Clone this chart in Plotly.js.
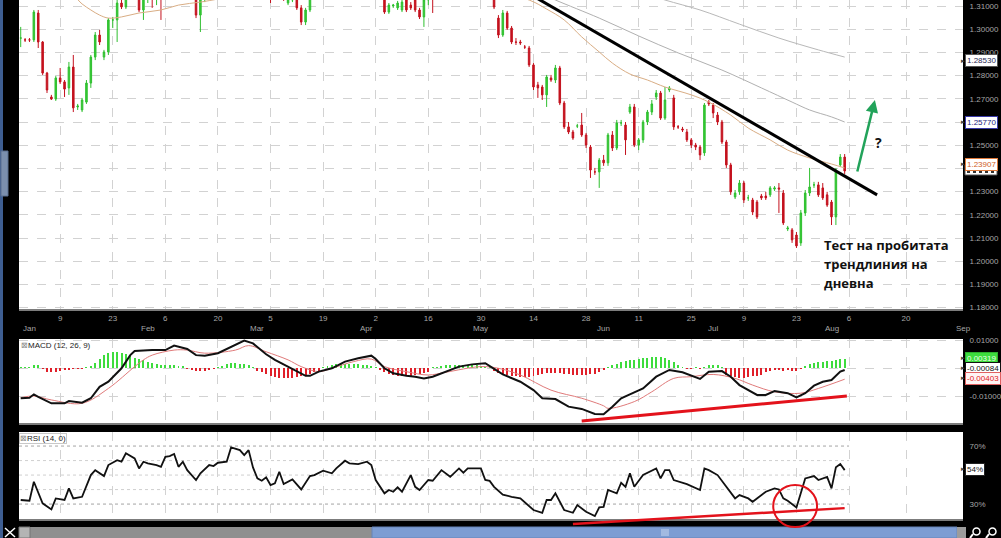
<!DOCTYPE html>
<html><head><meta charset="utf-8">
<script src="https://cdn.plot.ly/plotly-3.0.1.min.js"></script>
<style>html,body{margin:0;padding:0;background:#000;}#chart{width:1001px;height:538px;}</style>
</head><body><div id="chart"></div><script>
// ---- DATA: daily EUR/USD bars (index 0 = first bar, 29 Dec 2011) ----
const open = [
1.2962,1.2954,1.2954,1.2954,1.3070,1.2945,1.2811,1.2708,1.2699,1.2790,
1.2773,1.2747,1.2837,1.2665,1.2652,1.2686,1.2768,1.2880,1.2975,1.2880,
1.2902,1.3040,1.3040,1.3113,1.3096,1.3169,1.3212,1.3148,1.3083,1.3139,
1.3178,1.3160,1.3191,1.3148,1.3212,1.3234,1.3191,1.3221,1.3255,1.3212,
1.3169,1.3061,1.3148,1.3212,1.3255,1.3234,1.3264,1.3298,1.3277,1.3307,
1.3342,1.3320,1.3290,1.3255,1.3212,1.3178,1.3204,1.3169,1.3148,1.3178,
1.3160,1.3113,1.3126,1.3160,1.3092,1.3031,1.3083,1.3148,1.3191,1.3221,
1.3255,1.3234,1.3212,1.3247,1.3277,1.3255,1.3234,1.3204,1.3221,1.3191,
1.3178,1.3160,1.3148,1.3160,1.3074,1.3100,1.3092,1.3083,1.3126,1.3104,
1.3126,1.3083,1.3053,1.3126,1.3148,1.3139,1.3169,1.3204,1.3221,1.3191,
1.3212,1.3186,1.3169,1.3195,1.3178,1.3160,1.3186,1.3178,1.3169,1.3048,
1.2975,1.3070,1.3005,1.2945,1.2945,1.2923,1.2919,1.2846,1.2760,1.2751,
1.2717,1.2790,1.2781,1.2833,1.2682,1.2579,1.2557,1.2583,1.2587,1.2544,
1.2492,1.2385,1.2385,1.2436,1.2424,1.2544,1.2488,1.2596,1.2587,1.2643,
1.2665,1.2501,1.2523,1.2600,1.2643,1.2708,1.2725,1.2617,1.2738,1.2704,
1.2579,1.2570,1.2557,1.2523,1.2501,1.2492,1.2467,1.2686,1.2673,1.2630,
1.2600,1.2514,1.2415,1.2277,1.2299,1.2337,1.2273,1.2264,1.2255,1.2281,
1.2281,1.2286,1.2311,1.2316,1.2294,1.2139,1.2135,1.2113,1.2079,1.2208,
1.2294,1.2329,1.2329,1.2316,1.2286,1.2255,1.2191,1.2415,1.2449];
const high = [
1.3010,1.2962,1.2962,1.3083,1.3083,1.2949,1.2816,1.2717,1.2798,1.2833,
1.2781,1.2859,1.2889,1.2678,1.2704,1.2781,1.2889,1.2988,1.2997,1.2911,
1.3048,1.3053,1.3135,1.3148,1.3191,1.3234,1.3255,1.3178,1.3160,1.3204,
1.3212,1.3221,1.3212,1.3234,1.3255,1.3277,1.3247,1.3277,1.3290,1.3247,
1.3191,1.3169,1.3234,1.3277,1.3298,1.3277,1.3320,1.3333,1.3320,1.3363,
1.3376,1.3363,1.3342,1.3298,1.3255,1.3234,1.3247,1.3212,1.3204,1.3221,
1.3204,1.3148,1.3169,1.3191,1.3104,1.3092,1.3160,1.3212,1.3247,1.3277,
1.3298,1.3277,1.3255,1.3298,1.3320,1.3298,1.3277,1.3255,1.3264,1.3234,
1.3221,1.3204,1.3191,1.3178,1.3113,1.3109,1.3122,1.3126,1.3139,1.3117,
1.3139,1.3092,1.3135,1.3160,1.3169,1.3191,1.3221,1.3247,1.3255,1.3234,
1.3247,1.3221,1.3212,1.3234,1.3212,1.3204,1.3221,1.3212,1.3178,1.3061,
1.3083,1.3079,1.3014,1.2962,1.2954,1.2932,1.2928,1.2854,1.2773,1.2760,
1.2803,1.2803,1.2846,1.2842,1.2691,1.2600,1.2566,1.2592,1.2639,1.2553,
1.2501,1.2402,1.2445,1.2458,1.2553,1.2561,1.2609,1.2609,1.2600,1.2678,
1.2678,1.2531,1.2609,1.2652,1.2695,1.2738,1.2734,1.2751,1.2755,1.2717,
1.2587,1.2579,1.2570,1.2531,1.2510,1.2501,1.2682,1.2695,1.2682,1.2643,
1.2609,1.2523,1.2424,1.2307,1.2350,1.2346,1.2286,1.2273,1.2264,1.2290,
1.2299,1.2324,1.2324,1.2337,1.2307,1.2152,1.2143,1.2126,1.2221,1.2307,
1.2402,1.2342,1.2342,1.2337,1.2299,1.2264,1.2402,1.2462,1.2462];
const low = [
1.2923,1.2945,1.2945,1.2945,1.2919,1.2803,1.2725,1.2695,1.2691,1.2764,
1.2708,1.2717,1.2643,1.2652,1.2643,1.2678,1.2747,1.2867,1.2932,1.2867,
1.2889,1.3005,1.2945,1.3087,1.3087,1.3148,1.3160,1.3074,1.3040,1.3113,
1.3092,1.3104,1.3040,1.3139,1.3160,1.3178,1.3148,1.3169,1.3191,1.3148,
1.3048,1.2988,1.3117,1.3169,1.3204,1.3191,1.3212,1.3234,1.3221,1.3255,
1.3277,1.3255,1.3234,1.3191,1.3148,1.3135,1.3143,1.3113,1.3135,1.3143,
1.3122,1.3104,1.3117,1.3083,1.3018,1.3018,1.3074,1.3135,1.3160,1.3191,
1.3212,1.3191,1.3169,1.3204,1.3234,1.3212,1.3191,1.3169,1.3178,1.3152,
1.3143,1.3135,1.3135,1.3066,1.3066,1.3092,1.3083,1.3074,1.3074,1.3083,
1.3074,1.3044,1.3010,1.3104,1.3070,1.3130,1.3148,1.3169,1.3178,1.3160,
1.3169,1.3148,1.3139,1.3160,1.3143,1.3139,1.3152,1.3143,1.3087,1.2962,
1.2967,1.2997,1.2936,1.2932,1.2932,1.2915,1.2837,1.2738,1.2704,1.2695,
1.2665,1.2773,1.2768,1.2673,1.2570,1.2548,1.2523,1.2574,1.2536,1.2488,
1.2359,1.2372,1.2316,1.2411,1.2411,1.2475,1.2479,1.2583,1.2458,1.2635,
1.2492,1.2479,1.2510,1.2587,1.2630,1.2695,1.2609,1.2609,1.2729,1.2566,
1.2570,1.2557,1.2514,1.2488,1.2479,1.2436,1.2454,1.2669,1.2617,1.2587,
1.2505,1.2402,1.2286,1.2268,1.2286,1.2251,1.2260,1.2199,1.2182,1.2264,
1.2264,1.2277,1.2303,1.2208,1.2156,1.2130,1.2079,1.2057,1.2066,1.2195,
1.2281,1.2316,1.2277,1.2264,1.2234,1.2156,1.2156,1.2406,1.2376];
const close = [
1.2962,1.2954,1.2954,1.3074,1.2945,1.2811,1.2738,1.2699,1.2790,1.2773,
1.2742,1.2837,1.2661,1.2669,1.2695,1.2768,1.2880,1.2975,1.2945,1.2902,
1.3040,1.3040,1.3113,1.3096,1.3169,1.3212,1.3191,1.3083,1.3139,1.3178,
1.3160,1.3191,1.3148,1.3212,1.3234,1.3191,1.3221,1.3255,1.3212,1.3169,
1.3061,1.3148,1.3212,1.3255,1.3234,1.3264,1.3298,1.3277,1.3307,1.3342,
1.3320,1.3290,1.3255,1.3212,1.3178,1.3204,1.3169,1.3148,1.3178,1.3160,
1.3135,1.3126,1.3148,1.3092,1.3031,1.3083,1.3148,1.3191,1.3221,1.3255,
1.3234,1.3212,1.3247,1.3277,1.3255,1.3234,1.3204,1.3221,1.3191,1.3178,
1.3160,1.3148,1.3160,1.3074,1.3104,1.3104,1.3113,1.3117,1.3083,1.3092,
1.3083,1.3053,1.3126,1.3148,1.3139,1.3169,1.3204,1.3221,1.3191,1.3212,
1.3186,1.3169,1.3195,1.3178,1.3160,1.3186,1.3178,1.3169,1.3096,1.2975,
1.3070,1.3005,1.2945,1.2944,1.2941,1.2923,1.2846,1.2751,1.2747,1.2717,
1.2794,1.2781,1.2833,1.2682,1.2579,1.2557,1.2531,1.2583,1.2544,1.2501,
1.2393,1.2385,1.2436,1.2424,1.2544,1.2488,1.2596,1.2596,1.2523,1.2665,
1.2501,1.2523,1.2600,1.2643,1.2678,1.2725,1.2617,1.2695,1.2747,1.2579,
1.2579,1.2566,1.2523,1.2501,1.2492,1.2458,1.2673,1.2678,1.2639,1.2600,
1.2514,1.2415,1.2299,1.2294,1.2337,1.2264,1.2273,1.2212,1.2191,1.2273,
1.2273,1.2316,1.2316,1.2311,1.2165,1.2143,1.2092,1.2066,1.2208,1.2294,
1.2320,1.2329,1.2286,1.2273,1.2242,1.2191,1.2393,1.2449,1.2389];

// moving averages (bar index, value)
const maTanIdx = [0,6,12,14,16,18,20,23,27,32,36,41,45,50,60,80,100,110,116,120,124,128,132,135,139,143,147,153,157,162,166,171,175,180,185,188];
const maTanVal = [1.3190,1.3170,1.3143,1.3109,1.3083,1.3061,1.3048,1.3053,1.3070,1.3083,1.3104,1.3117,1.3130,1.3148,1.3160,1.3191,1.3178,1.3152,1.3126,1.3087,1.3040,1.2967,1.2902,1.2854,1.2807,1.2781,1.2751,1.2717,1.2686,1.2630,1.2574,1.2523,1.2479,1.2445,1.2419,1.2402];
const maLowIdx = [110,118,122,132,141,150,160,169,176,180,185,188];
const maLowVal = [1.3195,1.3160,1.3126,1.3048,1.2971,1.2898,1.2824,1.2747,1.2686,1.2652,1.2622,1.2600];
const maHighIdx = [130,140,147,155,164,173,182,188];
const maHighVal = [1.3230,1.3169,1.3126,1.3083,1.3022,1.2962,1.2911,1.2880];

// MACD (12,26,9)
const macdIdx = [0,2,3,4,7,10,11,14,16,18,20,23,25,26,30,33,35,38,40,42,45,48,51,53,56,58,61,63,65,66,68,71,74,77,80,81,83,85,88,90,92,94,97,100,103,106,109,110,114,117,119,122,125,128,131,133,135,137,140,142,145,148,151,155,157,160,162,164,168,170,172,175,177,179,181,183,185,186,187,188];
const macdVal = [-0.0108,-0.0106,-0.0094,-0.0103,-0.0126,-0.0126,-0.0118,-0.0124,-0.0108,-0.0067,-0.0049,-0.0001,0.0046,0.0061,0.0064,0.0064,0.0080,0.0068,0.0046,0.0044,0.0053,0.0076,0.0098,0.0088,0.0049,0.0029,0.0005,-0.0013,-0.0028,-0.0028,-0.0013,-0.0001,0.0023,0.0035,0.0044,0.0032,-0.0001,-0.0019,-0.0028,-0.0031,-0.0037,-0.0031,-0.0013,0.0005,0.0013,0.0017,-0.0013,-0.0023,-0.0049,-0.0079,-0.0108,-0.0111,-0.0138,-0.0146,-0.0164,-0.0165,-0.0138,-0.0108,-0.0087,-0.0073,-0.0031,-0.0007,-0.0015,-0.0039,-0.0013,-0.0011,-0.0031,-0.0061,-0.0096,-0.0096,-0.0082,-0.0090,-0.0105,-0.0090,-0.0063,-0.0049,-0.0043,-0.0028,-0.0013,-0.0007];
const signalIdx = [0,3,7,14,20,26,28,30,35,38,42,49,52,56,61,64,68,71,76,80,83,88,93,97,105,109,114,121,128,133,134,140,144,149,153,158,163,167,172,178,182,188];
const signalVal = [-0.0106,-0.0100,-0.0114,-0.0126,-0.0073,0.0005,0.0029,0.0046,0.0064,0.0064,0.0053,0.0064,0.0080,0.0058,0.0029,0.0005,-0.0013,-0.0001,0.0023,0.0032,0.0005,-0.0013,-0.0025,-0.0015,0.0005,-0.0001,-0.0025,-0.0079,-0.0108,-0.0135,-0.0144,-0.0120,-0.0085,-0.0037,-0.0031,-0.0023,-0.0037,-0.0061,-0.0085,-0.0090,-0.0073,-0.0040];
const histVal = [
0.0004,0.0004,0.0005,0.0010,0.0010,-0.0003,-0.0014,-0.0014,-0.0014,-0.0012,
-0.0007,-0.0007,-0.0005,-0.0005,-0.0004,0.0002,0.0007,0.0018,0.0032,0.0046,
0.0054,0.0057,0.0057,0.0054,0.0050,0.0043,0.0034,0.0032,0.0029,0.0023,
0.0019,0.0014,0.0012,0.0011,0.0010,0.0009,0.0007,0.0007,-0.0003,-0.0007,
-0.0010,-0.0010,-0.0010,-0.0007,-0.0005,0.0003,0.0008,0.0014,0.0018,0.0018,
0.0016,0.0014,0.0010,0.0005,-0.0011,-0.0016,-0.0023,-0.0029,-0.0032,-0.0034,
-0.0036,-0.0036,-0.0034,-0.0032,-0.0029,-0.0025,-0.0021,-0.0016,-0.0010,0.0004,
0.0008,0.0011,0.0013,0.0014,0.0014,0.0014,0.0014,0.0013,0.0012,0.0010,
0.0007,0.0003,-0.0007,-0.0014,-0.0020,-0.0025,-0.0027,-0.0029,-0.0029,-0.0027,
-0.0025,-0.0021,-0.0018,-0.0014,0.0003,0.0005,0.0007,0.0009,0.0010,0.0011,
0.0011,0.0011,0.0011,0.0010,0.0009,0.0007,0.0005,0.0003,-0.0010,-0.0018,
-0.0021,-0.0025,-0.0029,-0.0030,-0.0032,-0.0032,-0.0032,-0.0030,-0.0025,-0.0021,
-0.0018,-0.0018,-0.0018,-0.0018,-0.0021,-0.0023,-0.0025,-0.0025,-0.0025,-0.0025,
-0.0023,-0.0021,-0.0016,-0.0007,0.0003,0.0011,0.0016,0.0021,0.0025,0.0027,
0.0030,0.0032,0.0034,0.0036,0.0038,0.0039,0.0039,0.0036,0.0029,0.0021,
0.0011,0.0004,-0.0004,-0.0004,0.0002,-0.0003,0.0004,0.0010,0.0011,0.0010,
0.0005,-0.0025,-0.0030,-0.0032,-0.0034,-0.0034,-0.0032,-0.0030,-0.0029,-0.0025,
-0.0016,-0.0009,-0.0007,-0.0007,-0.0009,-0.0007,-0.0009,-0.0009,-0.0004,0.0007,
0.0014,0.0018,0.0021,0.0023,0.0025,0.0025,0.0030,0.0032,0.0032];

// RSI (14)
const rsiIdx = [0,2,3,4,5,7,8,10,11,12,14,16,17,19,20,22,23,24,26,27,28,29,31,32,33,34,35,36,37,38,40,41,43,44,45,47,48,50,51,52,53,54,55,56,57,58,59,60,62,64,66,67,69,71,72,74,75,77,79,80,81,83,84,85,86,87,89,90,91,93,94,96,98,100,101,102,105,106,107,108,110,112,114,117,119,120,121,122,124,126,127,129,131,132,133,134,136,137,138,139,140,142,145,146,147,148,149,152,155,156,157,159,163,164,166,167,169,170,172,173,174,175,177,179,181,182,184,185,186,187,188];
const rsiVal = [32.8,32.3,45.4,37.4,30.5,26.3,33.9,32.8,40.8,33.9,35.0,50.0,53.4,49.3,56.9,60.3,59.2,65.0,61.5,54.6,59.2,58.1,56.9,55.7,62.6,63.1,64.5,55.7,59.2,53.4,46.6,51.2,56.9,56.2,58.5,59.2,69.1,67.2,63.8,67.2,55.3,47.7,46.1,48.4,43.1,44.3,52.3,43.8,47.0,40.1,49.3,50.0,53.0,51.2,54.6,59.9,58.1,57.6,59.2,56.9,46.6,37.4,39.7,38.5,41.5,38.5,50.0,41.9,39.7,46.6,46.1,53.4,48.8,54.6,51.6,54.6,54.6,46.6,46.0,41.9,36.5,35.0,33.9,25.9,24.0,32.8,32.8,37.4,25.9,24.0,29.3,24.7,21.7,27.7,28.1,39.7,37.4,44.7,41.9,51.2,41.9,50.0,54.6,47.7,53.4,53.4,46.6,43.8,39.7,54.6,53.4,50.0,33.9,36.2,33.9,31.6,36.2,38.5,40.8,40.1,33.9,32.3,27.7,47.7,49.3,46.6,48.8,40.8,55.3,57.6,53.4];

// axis ticks (bar index of every second Monday; future part uses calendar days)
const dayTickIdx = [9,21,33,45,57,69,81,93,105,117,129,141,153,165,177,189,202];
const dayTickText = ['9','23','6','20','5','19','2','16','30','14','28','11','25','9','23','6','20'];
const monthIdx = [2,29,54,79,105,133,158,185,215];
const monthText = ['Jan','Feb','Mar','Apr','May','Jun','Jul','Aug','Sep'];
// labels hidden behind the value tags are left blank
const priceTicks = [1.18,1.19,1.20,1.21,1.22,1.23,1.24,1.25,1.26,1.27,1.28,1.29,1.30,1.31];
const priceTickText = ['1.18000','1.19000','1.20000','1.21000','1.22000','1.23000','','1.25000','','1.27000','1.28000','1.29000','1.30000','1.31000'];
const macdTicks = [-0.02,-0.01,0,0.01];
const macdTickText = ['-0.02000','-0.01000','','0.01000'];
const rsiLevels = [30,40,50,60,70];

// drawn trend lines (bar index, value)
const priceTrend = {x:[112,195.4], y:[1.3197,1.2286]};
const macdTrend = {x:[128,188.5], y:[-0.0189,-0.0100]};
const rsiTrend = {x:[126,188], y:[16.2,27.2]};
const rsiCircle = {x:[171.7,181.7], y:[14.1,43.1]};
const arrowUp = {x:[190.8,194.9], y:[1.2380,1.2695]};

// ---- LAYOUT ----
const W=1001,H=538,ML=19,MR=38;
const PW=W-ML-MR;
const xRange=[-0.39,215.0];
const priceRange=[1.1794,1.3126];
const macdRange=[-0.01964,0.01036];
const rsiRange=[19.7,79.7];
const domMain=[1-309/H,1], domMacd=[1-423/H,1-339/H], domRsi=[1-519/H,1-432/H];
const tickFont={family:'Liberation Sans, Arial, sans-serif',size:8,color:'#a6a6a6'};
const gridC='#d2d2d2';

// paper x is measured across the plot area (between margins)
function pxX(j){return (j-xRange[0])/(xRange[1]-xRange[0]);}
function pyRsi(r){return domRsi[0]+(r-rsiRange[0])/(rsiRange[1]-rsiRange[0])*(domRsi[1]-domRsi[0]);}
function pX(px){return (px-ML)/PW;}
function pY(py){return 1-py/H;}

const traces=[
 {type:'candlestick',open:open,high:high,low:low,close:close,xaxis:'x',yaxis:'y',
  increasing:{line:{color:'#2fbf2f',width:1},fillcolor:'#33cc33'},
  decreasing:{line:{color:'#c4121e',width:1},fillcolor:'#c4121e'},
  whiskerwidth:0,hoverinfo:'skip',showlegend:false},
 {type:'scatter',mode:'lines',x:maTanIdx,y:maTanVal,xaxis:'x',yaxis:'y',line:{color:'#d9ad84',width:1,shape:'spline'},hoverinfo:'skip',showlegend:false},
 {type:'scatter',mode:'lines',x:maLowIdx,y:maLowVal,xaxis:'x',yaxis:'y',line:{color:'#b0b0b0',width:1,shape:'spline'},hoverinfo:'skip',showlegend:false},
 {type:'scatter',mode:'lines',x:maHighIdx,y:maHighVal,xaxis:'x',yaxis:'y',line:{color:'#b8b8b8',width:1,shape:'spline'},hoverinfo:'skip',showlegend:false},
 {type:'bar',y:histVal,xaxis:'x2',yaxis:'y2',width:0.45,marker:{color:histVal.map(v=>v>=0?'#3ddc3d':'#e0202a'),line:{width:0}},hoverinfo:'skip',showlegend:false},
 {type:'scatter',mode:'lines',x:signalIdx,y:signalVal,xaxis:'x2',yaxis:'y2',line:{color:'#e07a7a',width:1,shape:'spline'},hoverinfo:'skip',showlegend:false},
 {type:'scatter',mode:'lines',x:macdIdx,y:macdVal,xaxis:'x2',yaxis:'y2',line:{color:'#111',width:2},hoverinfo:'skip',showlegend:false},
 {type:'scatter',mode:'lines',x:rsiIdx,y:rsiVal,xaxis:'x3',yaxis:'y3',line:{color:'#111',width:1.8},hoverinfo:'skip',showlegend:false}
];

const xBase={range:xRange,tickvals:dayTickIdx,ticktext:dayTickText,showgrid:true,gridcolor:gridC,griddash:'dash',gridwidth:1,
  zeroline:false,showline:true,linecolor:'#7c7c7c',linewidth:2,tickfont:tickFont,ticks:'',
  rangeslider:{visible:false},fixedrange:true};
const yBase={side:'right',showgrid:true,gridcolor:gridC,griddash:'dash',zeroline:false,showline:false,tickfont:tickFont,
  ticks:'outside',ticklen:4,tickcolor:'rgba(0,0,0,0)',fixedrange:true};

const shapes=[];
rsiLevels.forEach(r=>shapes.push({type:'line',xref:'x3',yref:'y3',x0:xRange[0],x1:189,y0:r,y1:r,layer:'below',
  line:{color:(r===30||r===70)?'#a4a4a4':'#cfcfcf',width:1,dash:'dot'}}));
shapes.push({type:'line',xref:'x',yref:'y',x0:priceTrend.x[0],x1:priceTrend.x[1],y0:priceTrend.y[0],y1:priceTrend.y[1],line:{color:'#000',width:3}});
shapes.push({type:'line',xref:'x2',yref:'y2',x0:macdTrend.x[0],x1:macdTrend.x[1],y0:macdTrend.y[0],y1:macdTrend.y[1],line:{color:'#e3121b',width:3}});
// left frame pieces
shapes.push({type:'rect',xref:'paper',yref:'paper',x0:pX(0),x1:pX(3),y0:0,y1:1,fillcolor:'#3e5e92',line:{width:0}});
shapes.push({type:'rect',xref:'paper',yref:'paper',x0:pX(1),x1:pX(8),y0:pY(196),y1:pY(151),fillcolor:'#7b8fae',line:{color:'#5a6f90',width:1}});
// partly hidden last-price tag under the orange tag
shapes.push({type:'rect',xref:'paper',yref:'paper',x0:pX(965),x1:pX(997),y0:pY(175),y1:pY(165),fillcolor:'#ffffff',line:{color:'#555',width:1}});
shapes.push({type:'line',xref:'paper',yref:'paper',x0:pX(967),x1:pX(995),y0:pY(172),y1:pY(172),line:{color:'#333',width:2,dash:'dot'}});
// bottom scrollbar
shapes.push({type:'rect',xref:'paper',yref:'paper',x0:pX(19),x1:pX(372),y0:0,y1:pY(527),fillcolor:'#8f8f8f',line:{width:0}});
shapes.push({type:'rect',xref:'paper',yref:'paper',x0:pX(19),x1:pX(30),y0:0,y1:pY(527),fillcolor:'#b4b4b4',line:{color:'#777',width:1}});
shapes.push({type:'rect',xref:'paper',yref:'paper',x0:pX(372),x1:pX(957),y0:0,y1:pY(527),fillcolor:'#7d9dd3',line:{color:'#6784b8',width:1}});
shapes.push({type:'rect',xref:'paper',yref:'paper',x0:pX(957),x1:pX(966),y0:0,y1:pY(527),fillcolor:'#9c9c9c',line:{width:0}});
[0,1,2,3].forEach(k=>shapes.push({type:'line',xref:'paper',yref:'paper',x0:pX(662+k*2),x1:pX(662+k*2),y0:pY(536),y1:pY(529),line:{color:'#c8d6ee',width:1}}));
[977,993].forEach(cx=>{
  shapes.push({type:'circle',xref:'paper',yref:'paper',x0:pX(cx-4),x1:pX(cx+3),y0:pY(535),y1:pY(528),line:{color:'#fff',width:1.5}});
  shapes.push({type:'line',xref:'paper',yref:'paper',x0:pX(cx-4),x1:pX(cx-7),y0:pY(534),y1:pY(538),line:{color:'#fff',width:2}});
});
shapes.push({type:'line',xref:'paper',yref:'paper',x0:pX(5),x1:pX(15),y0:pY(528),y1:pY(537),line:{color:'#fff',width:1.5}});
shapes.push({type:'line',xref:'paper',yref:'paper',x0:pX(5),x1:pX(15),y0:pY(537),y1:pY(528),line:{color:'#fff',width:1.5}});
// RSI overlays (drawn over the panel edge, so in paper units)
shapes.push({type:'line',xref:'paper',yref:'paper',x0:pxX(rsiTrend.x[0]),x1:pxX(rsiTrend.x[1]),y0:pyRsi(rsiTrend.y[0]),y1:pyRsi(rsiTrend.y[1]),line:{color:'#e3121b',width:2.5}});
shapes.push({type:'circle',xref:'paper',yref:'paper',x0:pxX(rsiCircle.x[0]),x1:pxX(rsiCircle.x[1]),y0:pyRsi(rsiCircle.y[0]),y1:pyRsi(rsiCircle.y[1]),line:{color:'#e3121b',width:2}});

const ann=[];
monthIdx.forEach((m,i)=>ann.push({xref:'x',yref:'paper',x:m,y:pY(328),text:monthText[i],showarrow:false,font:tickFont,xanchor:'center',yanchor:'middle'}));
function box(yref,y,text,bg,border,color){
  ann.push({xref:'paper',yref:yref,x:pX(959),y:y,text:'▸',showarrow:false,font:{family:'DejaVu Sans',size:7,color:'#444'},xanchor:'left',yanchor:'middle'});
  ann.push({xref:'paper',yref:yref,x:pX(965),y:y,text:text,showarrow:false,font:{family:'Liberation Sans, Arial',size:8,color:color},
    bgcolor:bg,bordercolor:border,borderwidth:1,borderpad:1,xanchor:'left',yanchor:'middle'});
}
box('y',1.2864,'1.28530','#ffffff','#555','#2a2a55');
box('y',1.2600,'1.25770','#ffffff','#3a3aa8','#1e1e80');
box('y',1.2419,'1.23907','#ffffff','#e07a3a','#d0601e');
box('y2',0.00357,'0.00319','#3ddc3d','#2fb02f','#eaffea');
box('y2',0.0000,'-0.00084','#ffffff','#111','#111');
box('y2',-0.00357,'-0.00403','#fff4f4','#e06060','#e02020');
box('y3',54.1,'54%','#ffffff','#222','#111');
// panel titles
ann.push({xref:'paper',yref:'paper',x:pX(19),y:pY(345),text:'<span style="color:#8a8a8a">⊠</span>MACD (12, 26, 9)',showarrow:false,xanchor:'left',yanchor:'middle',font:{family:'Liberation Sans, Arial',size:8,color:'#222'}});
ann.push({xref:'paper',yref:'paper',x:pX(19),y:pY(438),text:'<span style="color:#8a8a8a">⊠</span>RSI (14, 0)',showarrow:false,xanchor:'left',yanchor:'middle',bordercolor:'#c8c8c8',borderwidth:1,borderpad:0,font:{family:'Liberation Sans, Arial',size:8,color:'#222'}});
// commentary
ann.push({xref:'x',yref:'y',x:arrowUp.x[1],y:arrowUp.y[1],ax:arrowUp.x[0],ay:arrowUp.y[0],axref:'x',ayref:'y',text:'',showarrow:true,arrowhead:2,arrowsize:1,arrowwidth:2.5,arrowcolor:'#22a35a'});
ann.push({xref:'x',yref:'y',x:195.8,y:1.2510,text:'<b>?</b>',showarrow:false,font:{family:'Open Sans',size:14,color:'#111'}});
const lines=['Тест на пробитата','трендлиния на','дневна'];
const lineY=[1.2070,1.1988,1.1906];
lines.forEach((t,i)=>ann.push({xref:'x',yref:'y',x:182.8,y:lineY[i],text:'<b>'+t+'</b>',showarrow:false,xanchor:'left',yanchor:'middle',font:{family:'Open Sans',size:13,color:'#111'}}));

const layout={width:W,height:H,margin:{l:ML,r:MR,t:0,b:0,pad:0},paper_bgcolor:'#000',plot_bgcolor:'#fff',showlegend:false,
  boxgap:0.5,bargap:0,
  xaxis:Object.assign({},xBase,{anchor:'y',domain:[0,1]}),
  xaxis2:Object.assign({},xBase,{anchor:'y2',matches:'x',showticklabels:false,domain:[0,1]}),
  xaxis3:Object.assign({},xBase,{anchor:'y3',matches:'x',showticklabels:false,domain:[0,1]}),
  yaxis:Object.assign({},yBase,{domain:domMain,range:priceRange,tickvals:priceTicks,ticktext:priceTickText,anchor:'x'}),
  yaxis2:Object.assign({},yBase,{domain:domMacd,range:macdRange,tickvals:macdTicks,ticktext:macdTickText,anchor:'x2'}),
  yaxis3:Object.assign({},yBase,{domain:domRsi,range:rsiRange,tickvals:[30,70],ticktext:['30%','70%'],showgrid:false,anchor:'x3'}),
  shapes:shapes,annotations:ann};
Plotly.newPlot('chart',traces,layout,{displayModeBar:false,staticPlot:true});
</script></body></html>
